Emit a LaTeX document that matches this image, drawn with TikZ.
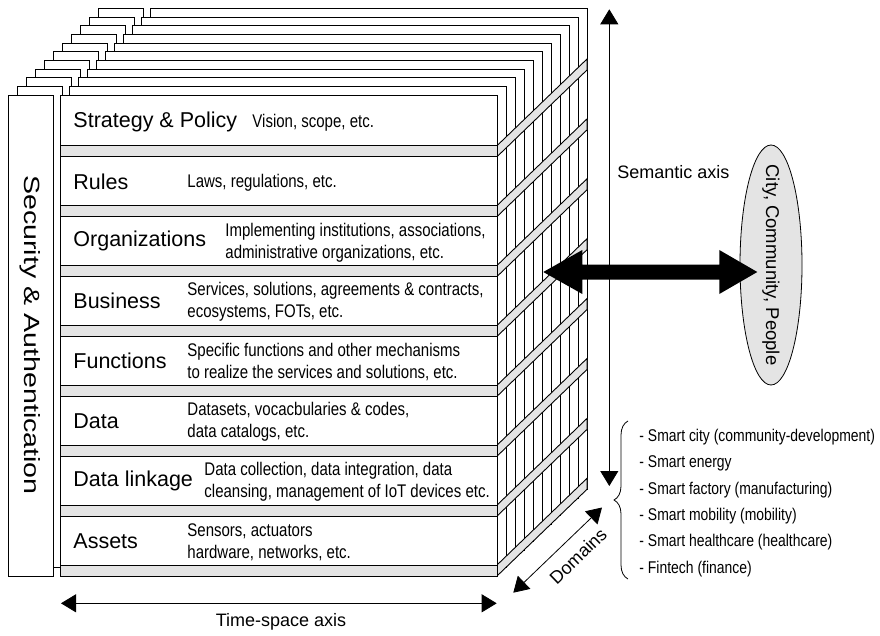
\documentclass[tikz,border=0pt]{standalone}
\usepackage{fontspec}
\setmainfont{Liberation Sans}
\newfontfamily\narrowsans[FakeStretch=0.82]{Liberation Sans}
\newfontfamily\widesans[FakeStretch=1.3]{Liberation Sans}
\usetikzlibrary{arrows.meta,decorations.pathreplacing,calc,shapes.geometric}
\definecolor{bandgray}{HTML}{E4E4E4}
\definecolor{ovalgray}{HTML}{E4E4E4}

\begin{document}
\begin{tikzpicture}[x=1pt,y=-1pt,line width=0.9pt,
  layerbox/.style={draw=black,fill=white},
  graystrip/.style={draw=black,fill=bandgray},
  layertitle/.style={anchor=west,inner sep=0pt,font=\fontsize{21.5}{24}\selectfont},
  layerdesc/.style={anchor=west,inner sep=0pt,align=left,font=\narrowsans\fontsize{18.3}{22}\selectfont},
  axislabel/.style={inner sep=0pt,font=\fontsize{18}{21}\selectfont},
  domainitem/.style={anchor=west,inner sep=0pt,font=\narrowsans\fontsize{17}{21}\selectfont},
  axisarrow/.style={line width=0.8pt,{Triangle[length=15pt,width=18pt]}-{Triangle[length=15pt,width=18pt]}}]
\useasboundingbox (0,0) rectangle (880,636);

% stacked layer sheets, drawn from the back to the front
\foreach \k in {10,...,1}{
  \pgfmathsetmacro\dx{9*\k}
  \pgfmathsetmacro\dy{-8.67*\k}
  \draw[layerbox] (8+\dx,95+\dy) rectangle (53.3+\dx,576+\dy);
  \draw[layerbox] (60+\dx,95+\dy) rectangle (497+\dx,576+\dy);
}

% separator strips running through the depth of the stack
\foreach \i in {0,...,7}{
  \pgfmathsetmacro\bb{156.7+59.9*\i}
  \pgfmathsetmacro\bt{\bb-11}
  \draw[graystrip] (497,\bt) -- (497,\bb) -- (587,\bb-86.7) -- (587,\bt-86.7) -- cycle;
}

% front sheets
\draw[layerbox] (8,95) rectangle (53.3,576);
\draw[layerbox] (60,95) rectangle (497,576);
\foreach \i in {0,...,7}{
  \pgfmathsetmacro\bb{156.7+59.9*\i}
  \pgfmathsetmacro\bt{\bb-11}
  \draw[graystrip] (60,\bt) rectangle (497,\bb);
}

\node[rotate=-90,inner sep=0pt,font=\widesans\fontsize{22}{24}\selectfont] (security) at (30.6,335) {Security \& Authentication};

% layer titles and descriptions
\node[layertitle] (t1) at (73,121.5) {Strategy \& Policy};
\node[layerdesc]  (d1) at (252,122.5) {Vision, scope, etc.};
\node[layertitle] (t2) at (73,181.4) {Rules};
\node[layerdesc]  (d2) at (187,182.4) {Laws, regulations, etc.};
\node[layertitle] (t3) at (73,241.3) {Organizations};
\node[layerdesc]  (d3) at (225,243) {Implementing institutions, associations,\\administrative organizations, etc.};
\node[layertitle] (t4) at (73,301.2) {Business};
\node[layerdesc]  (d4) at (187,302) {Services, solutions, agreements \& contracts,\\ecosystems, FOTs, etc.};
\node[layertitle] (t5) at (73,361.1) {Functions};
\node[layerdesc]  (d5) at (187,362) {Specific functions and other mechanisms\\to realize the services and solutions, etc.};
\node[layertitle] (t6) at (73,421) {Data};
\node[layerdesc]  (d6) at (187,422) {Datasets, vocacbularies \& codes,\\data catalogs, etc.};
\node[layertitle] (t7) at (73,480.9) {Data linkage};
\node[layerdesc]  (d7) at (204,482) {Data collection, data integration, data\\cleansing, management of IoT devices etc.};
\node[layertitle] (t8) at (73,540.8) {Assets};
\node[layerdesc]  (d8) at (187,542) {Sensors, actuators\\hardware, networks, etc.};

% semantic axis
\coordinate (semtop) at (609.3,9.3);
\coordinate (sembot) at (609.3,486);
\draw[axisarrow] (semtop) -- (sembot);
\node[axislabel,anchor=west] (semlabel) at (617,172) {Semantic axis};

% city / community / people
\node[ellipse,draw,fill=ovalgray,line width=0.8pt,minimum width=62pt,minimum height=240pt,inner sep=0pt] (city) at (771,265) {};
\node[rotate=-90,inner sep=0pt,font=\fontsize{18.5}{21}\selectfont] (citytext) at (city.center) {City, Community, People};

% bold two-way arrow between the stack and the city
\coordinate (bigL) at (543.3,272);
\coordinate (bigR) at (757.3,272);
\fill (bigL) -- ($(bigL)+(39,-22)$) -- ($(bigL)+(39,-7.5)$) -- ($(bigR)+(-38,-7.5)$)
  -- ($(bigR)+(-38,-22)$) -- (bigR) -- ($(bigR)+(-38,22)$) -- ($(bigR)+(-38,7.5)$)
  -- ($(bigL)+(39,7.5)$) -- ($(bigL)+(39,22)$) -- cycle;

% time-space axis
\coordinate (tsL) at (61,603.3);
\coordinate (tsR) at (496.7,603.3);
\draw[axisarrow] (tsL) -- (tsR);
\node[axislabel] (tslabel) at (281,622) {Time-space axis};

% domains axis
\coordinate (domA) at (513.3,592.7);
\coordinate (domB) at (602,507.5);
\draw[axisarrow] (domA) -- (domB);
\node[axislabel,rotate=44] (domlabel) at (578,556) {Domains};

% domain list with brace
\coordinate (braceBot) at (628,579);
\coordinate (braceTop) at (628,421);
\draw[line width=0.8pt,decorate,decoration={brace,amplitude=14pt,aspect=0.5}] (braceBot) -- (braceTop);
\node[domainitem] (dom1) at (639,437.3) {- Smart city (community-development)};
\node[domainitem] (dom2) at (639,463.6) {- Smart energy};
\node[domainitem] (dom3) at (639,489.9) {- Smart factory (manufacturing)};
\node[domainitem] (dom4) at (639,516.2) {- Smart mobility (mobility)};
\node[domainitem] (dom5) at (639,542.5) {- Smart healthcare (healthcare)};
\node[domainitem] (dom6) at (639,568.8) {- Fintech (finance)};
\end{tikzpicture}
\end{document}
